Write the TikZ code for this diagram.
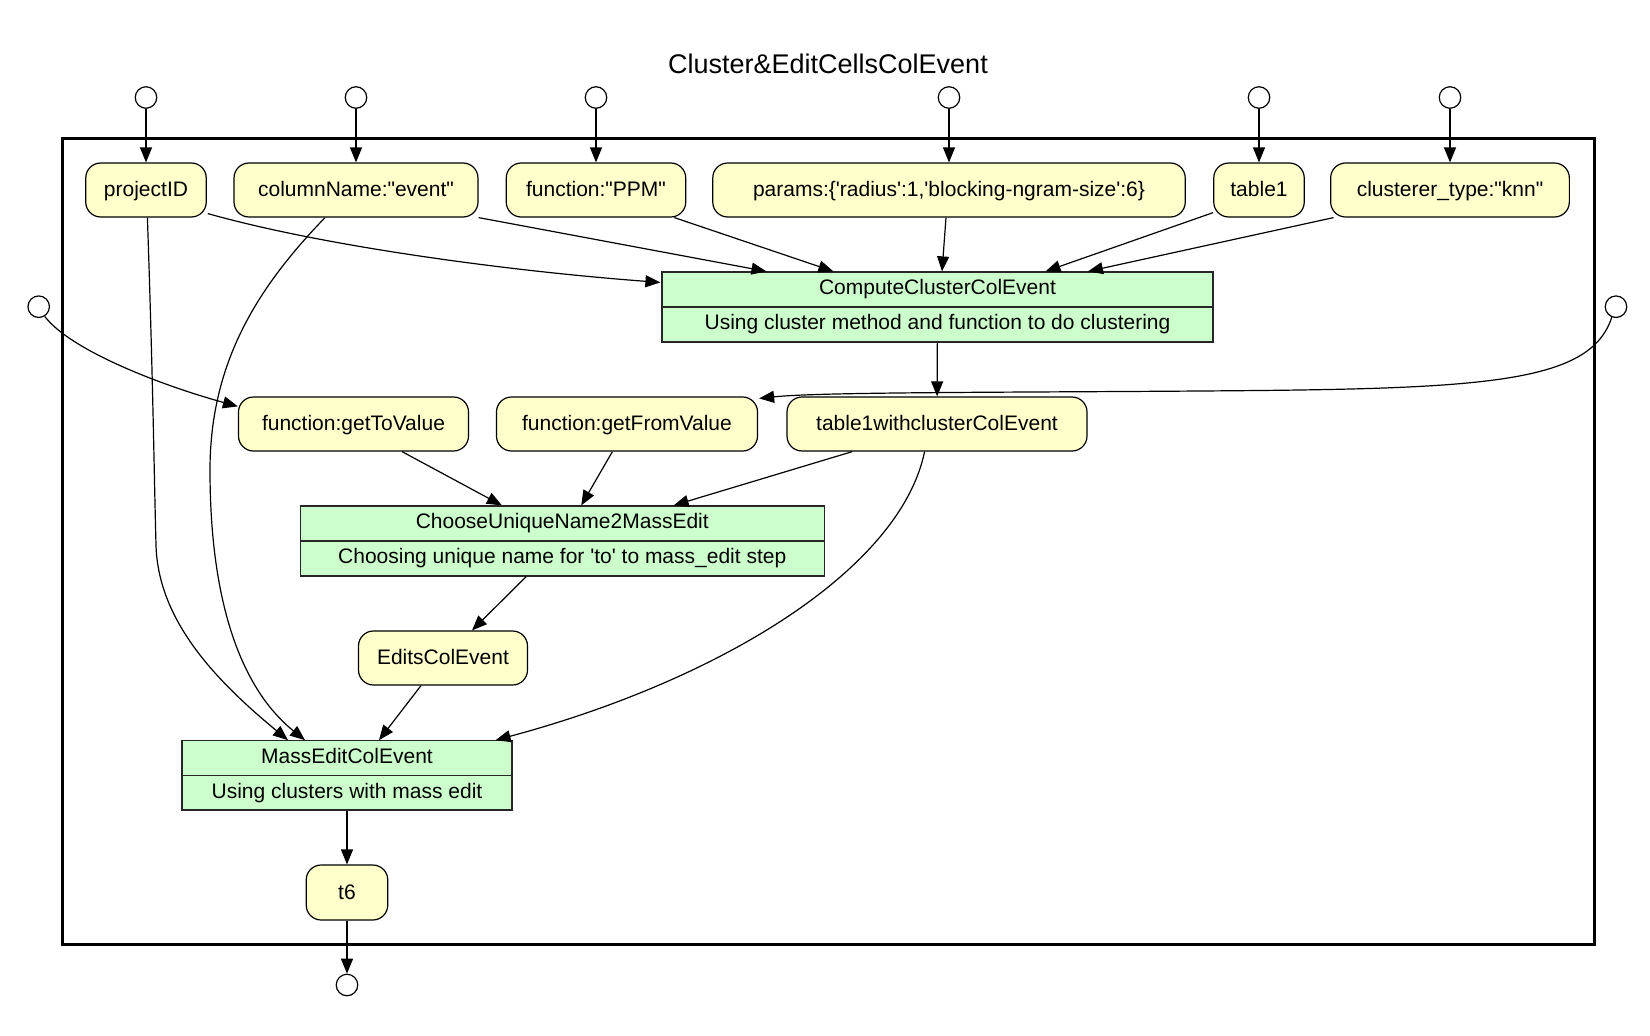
\documentclass[tikz,border=0pt]{standalone}
\usepackage{fontspec}
\setmainfont{Liberation Sans}[Ligatures=TeXOff]
\usetikzlibrary{arrows.meta,calc}
\definecolor{datafill}{HTML}{FFFFCC}
\definecolor{procfill}{HTML}{CCFFCC}
\begin{document}
\begin{tikzpicture}[x=1pt,y=-1pt,
  font=\fontsize{21}{25}\selectfont,
  data/.style={draw=black, fill=datafill, rounded corners=15pt, line width=1.2pt,
    minimum height=54pt, inner sep=0pt, text height=15.5pt, text depth=2.5pt},
  proc/.style={draw=black!85, fill=procfill, line width=1.2pt, inner sep=0pt},
  plabel/.style={inner sep=0pt, text height=15.5pt, text depth=5pt},
  port/.style={circle, draw=black, fill=white, line width=1.2pt,
    minimum size=21.5pt, inner sep=0pt},
  edge/.style={line width=1.2pt, -{Triangle[length=15pt,width=12pt]}},
  divider/.style={line width=1.2pt, draw=black!85},
]
\useasboundingbox (0,0) rectangle (1650,1036);

% title and cluster frame
\node[font=\fontsize{27}{32}\selectfont, anchor=base, inner sep=0pt] (title) at (828,73) {Cluster\&EditCellsColEvent};
\node[draw=black, line width=3pt, minimum width=1532pt, minimum height=806pt, inner sep=0pt] (frame) at (828,541) {};

% input ports
\node[port] (ppid) at (146,97.5) {};
\node[port] (pcn)  at (356,97.5) {};
\node[port] (pppm) at (596,97.5) {};
\node[port] (ppar) at (949,97.5) {};
\node[port] (pt1)  at (1259,97.5) {};
\node[port] (pck)  at (1450,97.5) {};
\node[port] (pleft)  at (38.7,306.7) {};
\node[port] (pright) at (1616,306.7) {};
% output port
\node[port] (pout) at (347,985) {};

% data nodes
\node[data, minimum width=120.5pt] (pid) at (146,190) {projectID};
\node[data, minimum width=244pt] (cn) at (356,190) {columnName:"event"};
\node[data, minimum width=179.5pt] (ppm) at (596,190) {function:"PPM"};
\node[data, minimum width=472.5pt] (par) at (949,190) {params:\{'radius':1,'blocking-ngram-size':6\}};
\node[data, minimum width=90.5pt] (t1) at (1259,190) {table1};
\node[data, minimum width=238.7pt] (ck) at (1450,190) {clusterer\_type:"knn"};
\node[data, minimum width=230pt] (gtv) at (353.5,424) {function:getToValue};
\node[data, minimum width=261pt] (gfv) at (627,424) {function:getFromValue};
\node[data, minimum width=300pt] (t1wc) at (937,424) {table1withclusterColEvent};
\node[data, minimum width=169pt] (ed) at (443,658) {EditsColEvent};
\node[data, minimum width=81.6pt, minimum height=55pt] (t6) at (347,892.5) {t6};

% process boxes
\node[proc, minimum width=551pt, minimum height=70pt] (cc) at (937.5,307) {};
\draw[divider] (cc.west) -- (cc.east);
\node[plabel] (cct) at (937.5,289.5) {ComputeClusterColEvent};
\node[plabel] (ccd) at (937.5,324.5) {Using cluster method and function to do clustering};

\node[proc, minimum width=524pt, minimum height=70pt] (cun) at (562.25,541) {};
\draw[divider] (cun.west) -- (cun.east);
\node[plabel] (cunt) at (562.25,523.5) {ChooseUniqueName2MassEdit};
\node[plabel] (cund) at (562.25,558.5) {Choosing unique name for 'to' to mass\_edit step};

\node[proc, minimum width=330pt, minimum height=69.3pt] (me) at (347,775.4) {};
\draw[divider] (me.west) -- (me.east);
\node[plabel] (met) at (347,758) {MassEditColEvent};
\node[plabel] (med) at (347,793) {Using clusters with mass edit};

% port edges
\draw[edge] (ppid) -- (pid);
\draw[edge] (pcn) -- (cn);
\draw[edge] (pppm) -- (ppm);
\draw[edge] (ppar) -- (par);
\draw[edge] (pt1) -- (t1);
\draw[edge] (pck) -- (ck);
\draw[edge] (pleft.-58) .. controls (70,350) and (160,385) .. ($(gtv.north west)+(0,10)$);
\draw[edge] (pright.-112) .. controls (1590,385) and (1480,389) .. (1200,391)
  .. controls (1000,392.5) and (820,392) .. ($(gfv.north east)+(1,2)$);
\draw[edge] (t6) -- (pout);

% inputs to ComputeClusterColEvent
\draw[edge] ($(pid.south east)+(1,-4)$) .. controls (330,248) and (520,272) .. ($(cc.north west)+(-1,11)$);
\draw[edge] (cn.south east) -- ($(cc.north west)+(105,0)$);
\draw[edge] ($(ppm.south east)+(-12,0)$) -- ($(cc.north west)+(172,0)$);
\draw[edge] ($(par.south)+(-3,0)$) -- ($(cc.north)+(4.5,0)$);
\draw[edge] ($(t1.south west)+(0,-5)$) -- ($(cc.north)+(108,0)$);
\draw[edge] ($(ck.south west)+(3.5,0)$) -- ($(cc.north)+(150.5,0)$);
\draw[edge] (cc) -- (t1wc);

% inputs to ChooseUniqueName2MassEdit
\draw[edge] ($(gtv.south)+(48.5,0)$) -- ($(cun.north)+(-60.4,0)$);
\draw[edge] ($(gfv.south)+(-14.6,0)$) -- ($(cun.north)+(19,0)$);
\draw[edge] ($(t1wc.south)+(-84.7,0)$) -- ($(cun.north)+(111.4,0)$);
\draw[edge] ($(cun.south)+(-36,0)$) -- ($(ed.north)+(29,0)$);

% inputs to MassEditColEvent
\draw[edge] ($(ed.south)+(-22,0)$) -- ($(me.north)+(32,0)$);
\draw[edge] ($(t1wc.south)+(-12.4,0)$) .. controls (900,570) and (720,680) .. ($(me.north east)+(-17,0)$);
\draw[edge] ($(pid.south)+(1.4,0)$) .. controls (153,380) and (154,470) .. (156,545)
  .. controls (158,620) and (215,680) .. ($(me.north)+(-59,0)$);
\draw[edge] ($(cn.south)+(-31,0)$) .. controls (260,285) and (210,360) .. (210,470)
  .. controls (210,630) and (255,700) .. ($(me.north)+(-42,0)$);
\draw[edge] (me) -- (t6);
\end{tikzpicture}
\end{document}
